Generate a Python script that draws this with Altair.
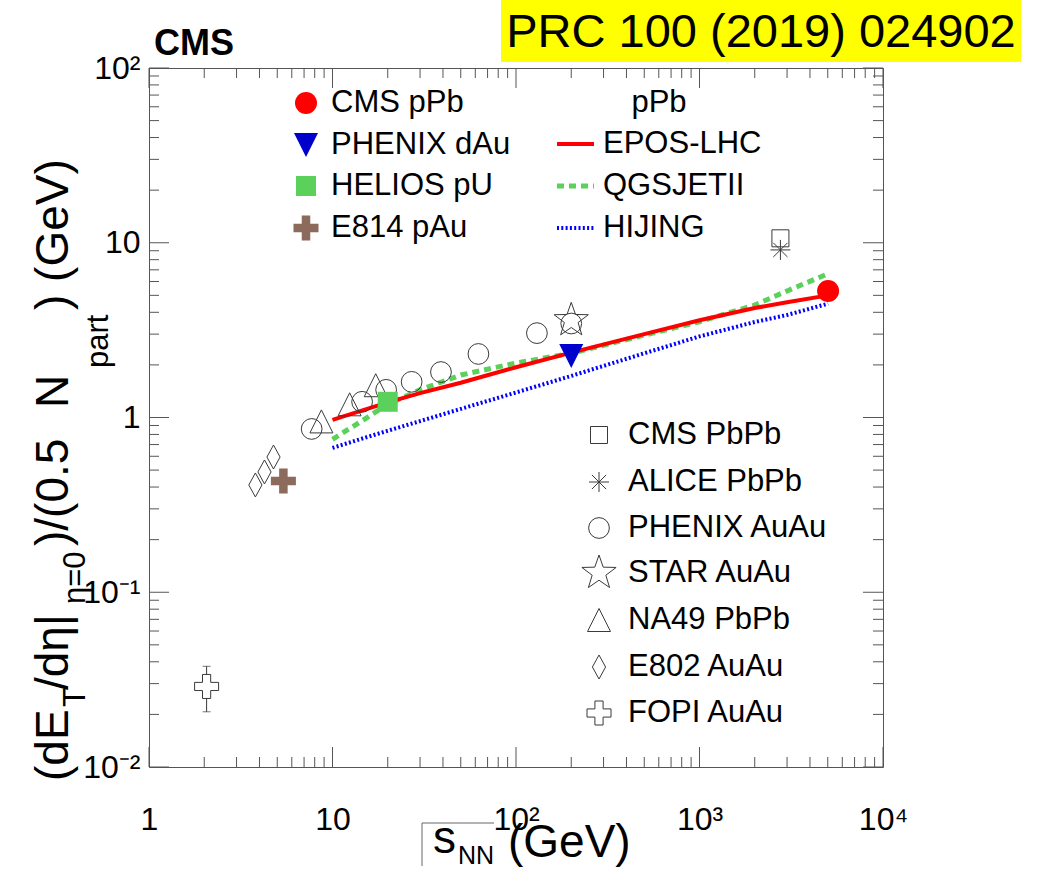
import altair as alt
import pandas as pd

# ---------------- data ----------------
cms_ppb_x = [5020]; cms_ppb_y = [5.3]
phenix_dau_x = [200]; phenix_dau_y = [2.25]
helios_x = [20]; helios_y = [1.23]
e814_x = [5.4]; e814_y = [0.433]
cms_pbpb_x = [2760]; cms_pbpb_y = [10.6]
alice_x = [2760]; alice_y = [9.1]
phenix_auau_x = [7.7, 14.5, 19.6, 27, 39, 62.4, 130, 200]
phenix_auau_y = [0.86, 1.23, 1.44, 1.60, 1.82, 2.31, 3.04, 3.45]
star_x = [200]; star_y = [3.6]
na49_x = [8.7, 12.4, 17.2]; na49_y = [0.95, 1.19, 1.53]
e802_x = [3.8, 4.26, 4.77]; e802_y = [0.411, 0.488, 0.594]
fopi_x = [2.06]; fopi_y = [0.0289]; fopi_lo = [0.0207]; fopi_hi = [0.0377]

model_x = [10, 15, 20, 30, 50, 100, 200, 500, 1000, 2000, 3000, 5020]
epos_y = [0.97, 1.11, 1.22, 1.38, 1.58, 1.94, 2.35, 3.0, 3.6, 4.23, 4.57, 5.0]
qgsjet_y = [0.75, 0.98, 1.19, 1.44, 1.75, 2.05, 2.33, 2.96, 3.53, 4.4, 5.3, 6.65]
hijing_y = [0.67, 0.766, 0.84, 0.953, 1.12, 1.39, 1.73, 2.33, 2.91, 3.52, 3.86, 4.48]

x_major = [1, 10, 100, 1000, 10000]
x_minor = [k * 10 ** d for d in range(4) for k in range(2, 10)]
y_major = [0.01, 0.1, 1, 10, 100]
y_minor = [k * 10.0 ** d for d in range(-2, 2) for k in range(2, 10)]

legend_top_left = ["CMS pPb", "PHENIX dAu", "HELIOS pU", "E814 pAu"]
legend_models = ["EPOS-LHC", "QGSJETII", "HIJING"]
legend_bottom = ["CMS PbPb", "ALICE PbPb", "PHENIX AuAu", "STAR AuAu", "NA49 PbPb", "E802 AuAu", "FOPI AuAu"]

# ---------------- layout ----------------
L, T = 149, 68          # plot origin in page pixels
W, H = 734, 699         # plot area
FONT = "Liberation Sans"
AX = "#555555"
MK = "#3a3a3a"

xs = alt.Scale(type="log", domain=[1, 10000], nice=False)
ys = alt.Scale(type="log", domain=[0.01, 100], nice=False)

xaxis = alt.Axis(values=x_major, ticks=False, domain=False, grid=False,
                 labelExpr="datum.value<5?'1':datum.value<50?'10':datum.value<500?'10²':datum.value<5000?'10³':'10⁴'",
                 labelFont=FONT, labelFontSize=32, labelColor="black", labelPadding=37,
                 labelBaseline="top", labelFlush=False, labelOverlap=False, labelBound=False, title=None)
yaxis = alt.Axis(values=y_major, ticks=False, domain=False, grid=False,
                 labelExpr="datum.value<0.05?'10⁻²':datum.value<0.5?'10⁻¹':datum.value<5?'1':datum.value<50?'10':'10²'",
                 labelFont=FONT, labelFontSize=32, labelColor="black", labelPadding=9,
                 labelBaseline="middle", labelFlush=False, labelOverlap=False, labelBound=False, title=None)


def X(f):
    return alt.X(f, type="quantitative", scale=xs, axis=xaxis, title=None)


def Y(f):
    return alt.Y(f, type="quantitative", scale=ys, axis=yaxis, title=None)


def px(v):
    return alt.value(v - L)


def py(v):
    return alt.value(v - T)


one = pd.DataFrame({"a": [0]})
layers = []

# yellow journal box
layers.append(alt.Chart(one).mark_rect(color="#ffff00").encode(
    x=px(501), x2=px(1021), y=py(0), y2=py(62)))

# ticks (inward, all four sides)
for vals, size in ((x_major, 20), (x_minor, 10)):
    d = pd.DataFrame({"v": vals})
    layers.append(alt.Chart(d).mark_rule(color=AX, strokeWidth=1).encode(
        x=X("v"), y=alt.value(H), y2=alt.value(H - size)))
    layers.append(alt.Chart(d).mark_rule(color=AX, strokeWidth=1).encode(
        x=X("v"), y=alt.value(0), y2=alt.value(size)))
for vals, size in ((y_major, 20), (y_minor, 10)):
    d = pd.DataFrame({"v": vals})
    layers.append(alt.Chart(d).mark_rule(color=AX, strokeWidth=1).encode(
        y=Y("v"), x=alt.value(0), x2=alt.value(size)))
    layers.append(alt.Chart(d).mark_rule(color=AX, strokeWidth=1).encode(
        y=Y("v"), x=alt.value(W), x2=alt.value(W - size)))

# model curves
models = pd.DataFrame({"x": model_x, "epos": epos_y, "qgs": qgsjet_y, "hij": hijing_y})
layers.append(alt.Chart(models).mark_line(color="#0000ff", strokeWidth=4, strokeDash=[2, 2.3]).encode(
    x=X("x"), y=Y("hij")))
layers.append(alt.Chart(models).mark_line(color="#5bd15b", strokeWidth=5, strokeDash=[7, 5]).encode(
    x=X("x"), y=Y("qgs")))
layers.append(alt.Chart(models).mark_line(color="#ff0000", strokeWidth=4).encode(
    x=X("x"), y=Y("epos")))

# marker paths
STAR = "M0,-1L0.235,-0.324L0.951,-0.309L0.38,0.124L0.588,0.809L0,0.4L-0.588,0.809L-0.38,0.124L-0.951,-0.309L-0.235,-0.324Z"
ASTER = "M-1,0L1,0M0,-1L0,1M-0.71,-0.71L0.71,0.71M-0.71,0.71L0.71,-0.71"
TRI_UP = "M0,-1L1,1L-1,1Z"
TRI_DN = "M-1,-1L1,-1L0,1Z"
DIAM = "M0,-1L0.55,0L0,1L-0.55,0Z"
PLUS = "M-0.34,-1L0.34,-1L0.34,-0.34L1,-0.34L1,0.34L0.34,0.34L0.34,1L-0.34,1L-0.34,0.34L-1,0.34L-1,-0.34L-0.34,-0.34Z"

open_style = dict(filled=False, color=MK, strokeWidth=1, opacity=1)
series_open = [
    (phenix_auau_x, phenix_auau_y, "circle", 430),
    (star_x, star_y, STAR, 1296),
    (na49_x, na49_y, TRI_UP, 529),
    (e802_x, e802_y, DIAM, 576),
    (cms_pbpb_x, cms_pbpb_y, "square", 289),
    (alice_x, alice_y, ASTER, 400),
]
for xv, yv, shp, sz in series_open:
    d = pd.DataFrame({"x": xv, "y": yv})
    layers.append(alt.Chart(d).mark_point(shape=shp, size=sz, **open_style).encode(x=X("x"), y=Y("y")))

# FOPI with error bar
fopi = pd.DataFrame({"x": fopi_x, "y": fopi_y, "lo": fopi_lo, "hi": fopi_hi})
layers.append(alt.Chart(fopi).mark_rule(color=MK, strokeWidth=1).encode(x=X("x"), y=Y("lo"), y2=alt.Y2("hi")))
layers.append(alt.Chart(fopi).mark_tick(orient="horizontal", size=8, thickness=1, color=MK).encode(x=X("x"), y=Y("lo")))
layers.append(alt.Chart(fopi).mark_tick(orient="horizontal", size=8, thickness=1, color=MK).encode(x=X("x"), y=Y("hi")))
layers.append(alt.Chart(fopi).mark_point(shape=PLUS, size=576, filled=True, fill="white", stroke=MK,
                                         strokeWidth=1, opacity=1).encode(x=X("x"), y=Y("y")))

# filled small-system points
series_filled = [
    (e814_x, e814_y, PLUS, 625, "#8c6a5c"),
    (helios_x, helios_y, "square", 400, "#5bd15b"),
    (phenix_dau_x, phenix_dau_y, TRI_DN, 576, "#0000cc"),
    (cms_ppb_x, cms_ppb_y, "circle", 484, "#ff0000"),
]
for xv, yv, shp, sz, col in series_filled:
    d = pd.DataFrame({"x": xv, "y": yv})
    layers.append(alt.Chart(d).mark_point(shape=shp, size=sz, filled=True, color=col, opacity=1).encode(
        x=X("x"), y=Y("y")))


def txt(s, x, y, size=31, bold=False, align="left", baseline="middle", angle=0, color="black"):
    kw = dict(text=s, font=FONT, fontSize=size, align=align, baseline=baseline, color=color)
    if bold:
        kw["fontWeight"] = "bold"
    if angle:
        kw["angle"] = angle
    return alt.Chart(one).mark_text(**kw).encode(x=px(x), y=py(y))


# legend: top-left (filled markers)
tl_rows = [103, 145, 186, 228]
tl_marks = [("circle", 484, "#ff0000"), (TRI_DN, 576, "#0000cc"), ("square", 400, "#5bd15b"), (PLUS, 625, "#8c6a5c")]
for lab, yy, (shp, sz, col) in zip(legend_top_left, tl_rows, tl_marks):
    layers.append(alt.Chart(one).mark_point(shape=shp, size=sz, filled=True, color=col, opacity=1).encode(
        x=px(306), y=py(yy)))
    layers.append(txt(lab, 331, yy))

# legend: models
layers.append(txt("pPb", 659, 103, align="center"))
m_rows = [144, 186, 228]
m_styles = [dict(color="#ff0000", strokeWidth=4), dict(color="#5bd15b", strokeWidth=5, strokeDash=[7, 5]),
            dict(color="#0000ff", strokeWidth=4, strokeDash=[2, 2.3])]
for lab, yy, st in zip(legend_models, m_rows, m_styles):
    layers.append(alt.Chart(one).mark_rule(**st).encode(x=px(557), x2=px(594), y=py(yy)))
    layers.append(txt(lab, 603, yy))

# legend: bottom right (open markers)
br_rows = [435, 482, 528, 573, 620, 667, 713]
br_marks = [("square", 289), (ASTER, 400), ("circle", 430), (STAR, 1296), (TRI_UP, 529), (DIAM, 576), (PLUS, 576)]
for lab, yy, (shp, sz) in zip(legend_bottom, br_rows, br_marks):
    if shp == PLUS:
        layers.append(alt.Chart(one).mark_point(shape=shp, size=sz, filled=True, fill="white", stroke=MK,
                                                strokeWidth=1, opacity=1).encode(x=px(599), y=py(yy)))
    else:
        layers.append(alt.Chart(one).mark_point(shape=shp, size=sz, **open_style).encode(x=px(599), y=py(yy)))
    layers.append(txt(lab, 628, yy))

# labels
layers.append(txt("CMS", 154, 44, size=36, bold=True))
layers.append(txt("PRC 100 (2019) 024902", 761, 33, size=47, align="center"))

# x-axis title  sqrt(s_NN) (GeV)
layers.append(alt.Chart(one).mark_rule(color="#666666", strokeWidth=1).encode(x=px(422), y=py(823), y2=py(866)))
layers.append(alt.Chart(one).mark_rule(color="#666666", strokeWidth=1).encode(x=px(422), x2=px(494), y=py(823)))
layers.append(txt("s", 433, 853, size=46, baseline="alphabetic"))
layers.append(txt("NN", 458, 864, size=25, baseline="alphabetic"))
layers.append(txt("(GeV)", 508, 857, size=46, baseline="alphabetic"))

# y-axis title (rotated, pieces with subscripts)
YB, YS = 68, 85
layers.append(txt("(dE", YB, 781, size=46, baseline="alphabetic", angle=270))
layers.append(txt("T", YS, 707, size=31, baseline="alphabetic", angle=270))
layers.append(txt("/dη|", YB, 690, size=46, baseline="alphabetic", angle=270))
layers.append(txt("η=0", YS, 604, size=31, baseline="alphabetic", angle=270))
layers.append(txt(")/(0.5", YB, 546, size=46, baseline="alphabetic", angle=270))
layers.append(txt("N", YB, 408, size=46, baseline="alphabetic", angle=270))
layers.append(txt("part", 108, 368, size=31, baseline="alphabetic", angle=270))
layers.append(txt(") (GeV)", YB, 310, size=46, baseline="alphabetic", angle=270))

chart = alt.layer(*layers).properties(
    width=W, height=H,
    autosize=alt.AutoSizeParams(type="none"),
    padding={"left": L, "top": T, "right": 1046 - L - W, "bottom": 869 - T - H},
    background="white",
).configure_view(stroke=AX, strokeWidth=1)

chart.save("out.html", embed_options={"renderer": "svg", "actions": False})
